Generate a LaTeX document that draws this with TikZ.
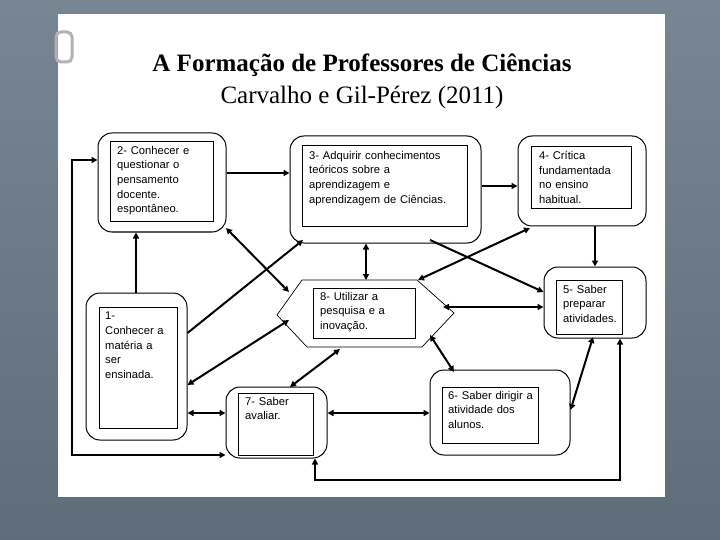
\documentclass[tikz,border=0pt]{standalone}
\usepackage{fontspec}
\setmainfont{Liberation Serif}
\newfontfamily\boxfont{Liberation Sans}
\usetikzlibrary{arrows.meta}
\begin{document}
\begin{tikzpicture}[x=1pt,y=-1pt,
  outer/.style={draw=black,line width=1pt,rounded corners=14pt,fill=white},
  inner/.style={draw=black,line width=1pt,fill=white},
  txt/.style={anchor=north west,inner sep=0pt,align=left,font=\boxfont\fontsize{11.2}{14.6}\selectfont},
  con/.style={line width=2pt,-{Triangle[length=6pt,width=6pt]}},
  bi/.style={line width=2pt,{Triangle[length=6pt,width=6pt]}-{Triangle[length=6pt,width=6pt]}}]
\useasboundingbox (0,0) rectangle (720,540);
\fill[top color={rgb,255:red,120;green,134;blue,148},bottom color={rgb,255:red,95;green,108;blue,122}] (0,0) rectangle (720,540);
\fill[white] (58,14) rectangle (665,497);
\draw[line width=3pt,color=gray!60,rounded corners=5pt] (56,32) rectangle (72,62);
% title
\node (title) at (362,65) {\fontsize{25}{30}\selectfont\bfseries A Formação de Professores de Ciências};
\node (sub) at (362,97) {\fontsize{25}{30}\selectfont Carvalho e Gil-Pérez (2011)};
% boxes
\node[outer,minimum width=128pt,minimum height=99pt] (b2) at (162,182.5) {};
\draw[inner] (110,142) rectangle (213,222);
\node[txt,text width=100pt] (t2) at (117,146) {2- Conhecer e\\questionar o\\pensamento\\docente.\\espontâneo.};
\node[outer,minimum width=191pt,minimum height=107pt] (b3) at (385.5,189.5) {};
\draw[inner] (302,146) rectangle (467,227);
\node[txt,text width=160pt] (t3) at (309,151) {3- Adquirir conhecimentos\\teóricos sobre a\\aprendizagem e\\aprendizagem de Ciências.};
\node[outer,minimum width=128pt,minimum height=90pt] (b4) at (582,181) {};
\draw[inner] (531,147) rectangle (631,209);
\node[txt,text width=100pt] (t4) at (539,151) {4- Crítica\\fundamentada\\no ensino\\habitual.};
\node[outer,minimum width=102pt,minimum height=71pt] (b5) at (595,302.5) {};
\draw[inner] (556,280) rectangle (622,334);
\node[txt,text width=70pt] (t5) at (563,285) {5- Saber\\preparar\\atividades.};
\draw[line width=0.7pt,fill=white] (302,280) -- (417,280) -- (454,313) -- (422,347) -- (307,347) -- (277,315) -- cycle;
\coordinate (b8) at (366,313);
\draw[inner] (313,288) rectangle (415,338);
\node[txt,text width=100pt] (t8) at (320,292) {8- Utilizar a\\pesquisa e a\\inovação.};
\node[outer,minimum width=101pt,minimum height=147pt] (b1) at (136.5,366.5) {};
\draw[inner] (99,307) rectangle (177,428);
\node[txt,text width=76pt] (t1) at (105,312) {1-\\Conhecer a\\matéria a\\ser\\ensinada.};
\node[outer,minimum width=101pt,minimum height=71pt] (b7) at (276.5,422.5) {};
\draw[inner] (238,393) rectangle (313,455);
\node[txt,text width=70pt] (t7) at (245,397) {7- Saber\\avaliar.};
\node[outer,minimum width=140pt,minimum height=85pt] (b6) at (500,412.5) {};
\draw[inner] (442,387) rectangle (538,443);
\node[txt,text width=100pt] (t6) at (448,391) {6- Saber dirigir a\\atividade dos\\alunos.};
% connectors
\draw[con] (b2.east|-0,173) -- (b3.west|-0,173);
\draw[con] (b3.east|-0,186) -- (b4.west|-0,186);
\draw[bi] (b2.west|-0,160) -- (72,160) -- (72,455) -- (b7.west|-0,455);
\draw[con] (b1.north-|136,0) -- (b2.south-|136,0);
\draw[bi] (226,228) -- (289,292);
\draw[con] (b1.east|-0,333) -- (303,240);
\draw[bi] (b1.east|-0,385) -- (289,320);
\draw[bi] (b3.south-|366,0) -- (366,280);
\draw[con] (430,240) -- (b5.west|-0,292);
\draw[bi] (530,228) -- (418,280);
\draw[con] (b4.south-|595,0) -- (b5.north-|595,0);
\draw[bi] (443,307) -- (b5.west|-0,307);
\draw[bi] (340,349) -- (290,387);
\draw[bi] (430,335) -- (454,372);
\draw[bi] (593,337) -- (b6.east|-0,410);
\draw[bi] (b1.east|-0,413) -- (b7.west|-0,413);
\draw[bi] (b7.east|-0,413) -- (b6.west|-0,413);
\draw[bi] (b7.south-|315,0) -- (315,480) -- (620,480) -- (b5.south-|620,0);
\end{tikzpicture}
\end{document}
